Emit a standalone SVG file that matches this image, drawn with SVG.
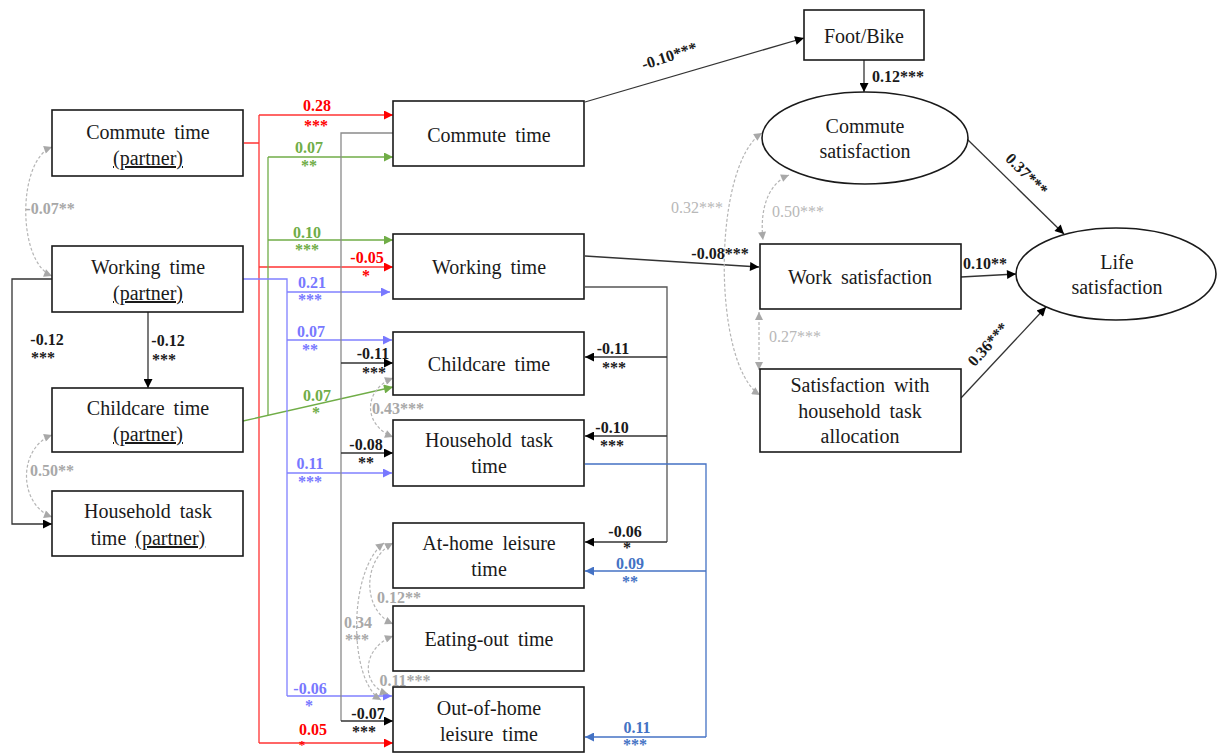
<svg xmlns="http://www.w3.org/2000/svg" width="1218" height="753" viewBox="0 0 1218 753">
<style>
.box{fill:#fff;stroke:#1a1a1a;stroke-width:1.6}
.nt{font-family:"Liberation Serif","Times New Roman",serif;font-size:20px;fill:#1a1a1a;text-anchor:middle;word-spacing:4px}
.lb{font-family:"Liberation Serif","Times New Roman",serif;font-size:16px;font-weight:bold;text-anchor:middle}
.lr{font-family:"Liberation Serif","Times New Roman",serif;font-size:16px;text-anchor:middle;fill:#b8b8b8}
.k{fill:#1a1a1a}.r{fill:#ff0000}.g{fill:#70ad47}.p{fill:#7878ff}.b{fill:#4472c4}.gy{fill:#a8a8a8}
.ln{fill:none;stroke-width:1.3}
.dash{fill:none;stroke:#b5b5b5;stroke-width:1.2;stroke-dasharray:3 2;marker-start:url(#mgy);marker-end:url(#mgy)}
</style>
<defs>
<marker id="mk" viewBox="0 0 10 10" refX="10" refY="5" markerWidth="11" markerHeight="9" orient="auto" markerUnits="userSpaceOnUse"><path d="M0,0L10,5L0,10z" fill="#000"/></marker>
<marker id="mr" viewBox="0 0 10 10" refX="10" refY="5" markerWidth="11" markerHeight="9" orient="auto" markerUnits="userSpaceOnUse"><path d="M0,0L10,5L0,10z" fill="#ff0000"/></marker>
<marker id="mg" viewBox="0 0 10 10" refX="10" refY="5" markerWidth="11" markerHeight="9" orient="auto" markerUnits="userSpaceOnUse"><path d="M0,0L10,5L0,10z" fill="#70ad47"/></marker>
<marker id="mp" viewBox="0 0 10 10" refX="10" refY="5" markerWidth="11" markerHeight="9" orient="auto" markerUnits="userSpaceOnUse"><path d="M0,0L10,5L0,10z" fill="#7878ff"/></marker>
<marker id="mb" viewBox="0 0 10 10" refX="10" refY="5" markerWidth="11" markerHeight="9" orient="auto" markerUnits="userSpaceOnUse"><path d="M0,0L10,5L0,10z" fill="#4472c4"/></marker>
<marker id="mgy" viewBox="0 0 10 10" refX="10" refY="5" markerWidth="9" markerHeight="8" orient="auto-start-reverse" markerUnits="userSpaceOnUse"><path d="M0,0L10,5L0,10z" fill="#a8a8a8"/></marker>
</defs>
<rect width="1218" height="753" fill="#fff"/>

<g id="connectors">
<path class="ln" stroke="#ff3333" d="M244,143H259M259,115V743"/>
<path class="ln" stroke="#ff3333" marker-end="url(#mr)" d="M259,115H393"/>
<path class="ln" stroke="#ff3333" marker-end="url(#mr)" d="M259,267H393"/>
<path class="ln" stroke="#ff3333" marker-end="url(#mr)" d="M259,743H393"/>
<path class="ln" stroke="#70ad47" d="M268,415V157"/>
<path class="ln" stroke="#70ad47" marker-end="url(#mg)" d="M268,157H393"/>
<path class="ln" stroke="#70ad47" marker-end="url(#mg)" d="M268,240H393"/>
<path class="ln" stroke="#70ad47" marker-end="url(#mg)" d="M243,421L393,387"/>
<path class="ln" stroke="#8080ff" d="M243,279H287V696"/>
<path class="ln" stroke="#8080ff" marker-end="url(#mp)" d="M287,292H390"/>
<path class="ln" stroke="#8080ff" marker-end="url(#mp)" d="M287,340H392"/>
<path class="ln" stroke="#8080ff" marker-end="url(#mp)" d="M287,473H392"/>
<path class="ln" stroke="#8080ff" marker-end="url(#mp)" d="M287,696H392"/>
<path class="ln" stroke="#8a8a8a" stroke-width="1.8" d="M396,133H341V721"/>
<path class="ln" stroke="#333" marker-end="url(#mk)" d="M341,363H393"/>
<path class="ln" stroke="#333" marker-end="url(#mk)" d="M341,453H393"/>
<path class="ln" stroke="#333" marker-end="url(#mk)" d="M341,721H393"/>
<path class="ln" stroke="#555" d="M585,287H667V542"/>
<path class="ln" stroke="#333" marker-end="url(#mk)" d="M667,357H585"/>
<path class="ln" stroke="#333" marker-end="url(#mk)" d="M667,436H585"/>
<path class="ln" stroke="#333" marker-end="url(#mk)" d="M667,542H585"/>
<path class="ln" stroke="#4472c4" d="M585,464H706V737"/>
<path class="ln" stroke="#4472c4" marker-end="url(#mb)" d="M706,571H585"/>
<path class="ln" stroke="#4472c4" marker-end="url(#mb)" d="M706,737H585"/>
<path class="ln" stroke="#333" marker-end="url(#mk)" d="M585,102L804,38"/>
<path class="ln" stroke="#333" marker-end="url(#mk)" d="M864,60V92"/>
<path class="ln" stroke="#333" marker-end="url(#mk)" d="M585,256L759,267"/>
<path class="ln" stroke="#333" marker-end="url(#mk)" d="M967,139L1064,234"/>
<path class="ln" stroke="#333" marker-end="url(#mk)" d="M961,277L1016,274"/>
<path class="ln" stroke="#333" marker-end="url(#mk)" d="M961,398L1046,307"/>
<path class="ln" stroke="#333" marker-end="url(#mk)" d="M52,279H12V524H52"/>
<path class="ln" stroke="#333" marker-end="url(#mk)" d="M148,312V388"/>
<path class="dash" d="M52,147C17,160 17,262 52,276"/>
<path class="dash" d="M52,435C18,448 18,504 52,517"/>
<path class="dash" d="M393,378C363,390 363,425 393,437"/>
<path class="dash" d="M393,543C362,560 362,610 393,624"/>
<path class="dash" d="M384,543C348,570 348,680 381,700"/>
<path class="dash" d="M393,636C362,648 360,685 388,694"/>
<path class="dash" d="M762,133C712,165 712,365 760,395"/>
<path class="dash" d="M789,175C765,185 760,215 763,240"/>
<path class="dash" d="M759,312V370"/>
</g>

<g id="labels">
<text class="lb r" x="317" y="111">0.28</text><text class="lb r" x="316" y="131">***</text>
<text class="lb r" x="367" y="263">-0.05</text><text class="lb r" x="366" y="281">*</text>
<text class="lb r" x="313" y="735">0.05</text><text class="lb r" x="302" y="749" style="font-size:13px">*</text>
<text class="lb g" x="309" y="153">0.07</text><text class="lb g" x="309" y="171">**</text>
<text class="lb g" x="307" y="238">0.10</text><text class="lb g" x="307" y="255">***</text>
<text class="lb g" x="317" y="401">0.07</text><text class="lb g" x="316" y="418">*</text>
<text class="lb p" x="312" y="288">0.21</text><text class="lb p" x="310" y="305">***</text>
<text class="lb p" x="311" y="337">0.07</text><text class="lb p" x="310" y="355">**</text>
<text class="lb p" x="310" y="469">0.11</text><text class="lb p" x="310" y="487">***</text>
<text class="lb p" x="310" y="694">-0.06</text><text class="lb p" x="309" y="711">*</text>
<text class="lb k" x="373" y="359">-0.11</text><text class="lb k" x="374" y="378">***</text>
<text class="lb k" x="366" y="450">-0.08</text><text class="lb k" x="366" y="468">**</text>
<text class="lb k" x="368" y="719">-0.07</text><text class="lb k" x="364" y="737">***</text>
<text class="lb k" x="613" y="354">-0.11</text><text class="lb k" x="614" y="373">***</text>
<text class="lb k" x="612" y="433">-0.10</text><text class="lb k" x="612" y="451">***</text>
<text class="lb k" x="625" y="537">-0.06</text><text class="lb k" x="627" y="553">*</text>
<text class="lb b" x="630" y="569">0.09</text><text class="lb b" x="630" y="587">**</text>
<text class="lb b" x="637" y="733">0.11</text><text class="lb b" x="635" y="750">***</text>
<text class="lb k" x="47" y="345">-0.12</text><text class="lb k" x="43" y="363">***</text>
<text class="lb k" x="168" y="346">-0.12</text><text class="lb k" x="164" y="365">***</text>
<text class="lb gy" x="50" y="214">-0.07**</text>
<text class="lb gy" x="52" y="476">0.50**</text>
<text class="lb gy" x="398" y="414">0.43***</text>
<text class="lb gy" x="399" y="603">0.12**</text>
<text class="lb gy" x="358" y="628">0.34</text><text class="lb gy" x="357" y="645">***</text>
<text class="lb gy" x="405" y="686">0.11***</text>
<text class="lb k" transform="translate(671,61) rotate(-18)">-0.10***</text>
<text class="lb k" x="872" y="82" style="text-anchor:start">0.12***</text>
<text class="lr" x="697" y="213">0.32***</text>
<text class="lr" x="798" y="217">0.50***</text>
<text class="lr" x="795" y="342">0.27***</text>
<text class="lb k" x="720" y="259">-0.08***</text>
<text class="lb k" x="985" y="269">0.10**</text>
<text class="lb k" transform="translate(1023,178) rotate(45)">0.37***</text>
<text class="lb k" transform="translate(992,348) rotate(-48)">0.36***</text>
</g>

<g id="n-commute-partner"><rect class="box" x="52" y="110" width="191" height="66"/><text class="nt" x="148" y="139">Commute time</text><text class="nt" x="148" y="165"><tspan text-decoration="underline">(partner)</tspan></text></g>
<g id="n-working-partner"><rect class="box" x="52" y="246" width="191" height="66"/><text class="nt" x="148" y="274">Working time</text><text class="nt" x="148" y="300"><tspan text-decoration="underline">(partner)</tspan></text></g>
<g id="n-childcare-partner"><rect class="box" x="52" y="388" width="191" height="64"/><text class="nt" x="148" y="415">Childcare time</text><text class="nt" x="148" y="441"><tspan text-decoration="underline">(partner)</tspan></text></g>
<g id="n-household-partner"><rect class="box" x="52" y="491" width="191" height="65"/><text class="nt" x="148" y="518">Household task</text><text class="nt" x="148" y="545">time <tspan text-decoration="underline">(partner)</tspan></text></g>

<g id="n-commute"><rect class="box" x="393" y="101" width="191" height="65"/><text class="nt" x="489" y="142">Commute time</text></g>
<g id="n-working"><rect class="box" x="393" y="234" width="191" height="65"/><text class="nt" x="489" y="274">Working time</text></g>
<g id="n-childcare"><rect class="box" x="393" y="332" width="191" height="63"/><text class="nt" x="489" y="371">Childcare time</text></g>
<g id="n-household"><rect class="box" x="393" y="420" width="191" height="66"/><text class="nt" x="489" y="447">Household task</text><text class="nt" x="489" y="473">time</text></g>
<g id="n-athome"><rect class="box" x="393" y="523" width="191" height="65"/><text class="nt" x="489" y="550">At-home leisure</text><text class="nt" x="489" y="576">time</text></g>
<g id="n-eatingout"><rect class="box" x="393" y="606" width="191" height="65"/><text class="nt" x="489" y="646">Eating-out time</text></g>
<g id="n-outofhome"><rect class="box" x="393" y="687" width="191" height="65"/><text class="nt" x="489" y="715">Out-of-home</text><text class="nt" x="489" y="741">leisure time</text></g>

<g id="n-footbike"><rect class="box" x="804" y="10" width="120" height="50"/><text class="nt" x="864" y="43">Foot/Bike</text></g>
<g id="n-commute-sat"><ellipse class="box" cx="865" cy="138" rx="103" ry="46"/><text class="nt" x="865" y="133">Commute</text><text class="nt" x="865" y="158">satisfaction</text></g>
<g id="n-work-sat"><rect class="box" x="760" y="244" width="201" height="65"/><text class="nt" x="860" y="284">Work satisfaction</text></g>
<g id="n-household-sat"><rect class="box" x="760" y="369" width="201" height="83"/><text class="nt" x="860" y="392">Satisfaction with</text><text class="nt" x="860" y="418">household task</text><text class="nt" x="860" y="443">allocation</text></g>
<g id="n-life-sat"><ellipse class="box" cx="1116" cy="274" rx="100" ry="46"/><text class="nt" x="1117" y="269">Life</text><text class="nt" x="1117" y="294">satisfaction</text></g>
</svg>
